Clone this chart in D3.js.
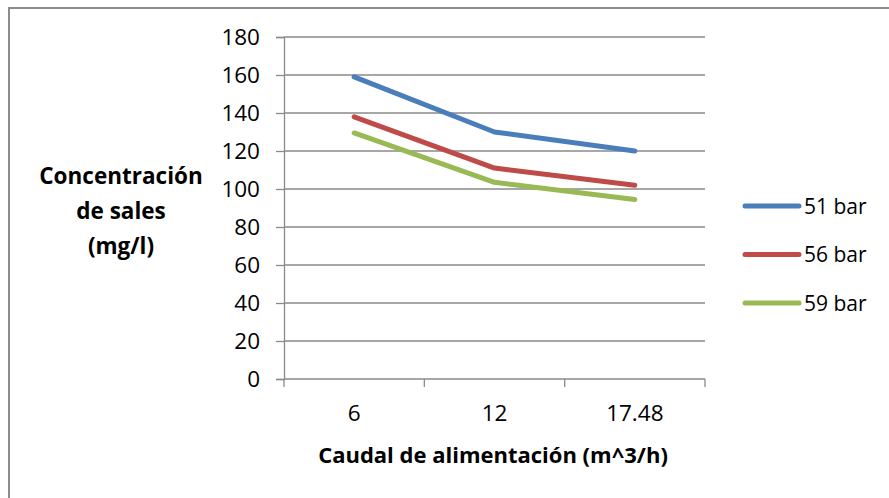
<!DOCTYPE html>
<html>
<head>
<meta charset="utf-8">
<script src="https://cdn.jsdelivr.net/npm/d3@7"></script>
<style>
  html, body { margin: 0; padding: 0; background: #fff; }
  svg { display: block; }
  text { font-family: "Open Sans", "Noto Sans", sans-serif; fill: #000; }
</style>
</head>
<body>
<svg id="chart" width="889" height="498"></svg>
<script>
// Feed flow rates (m^3/h) on the category axis
const categories = ["6", "12", "17.48"];
// Salt concentration (mg/l) for each operating pressure
const seriesNames = ["51 bar", "56 bar", "59 bar"];
const values51 = [159, 130, 120];
const values56 = [138, 111, 102];
const values59 = [129.5, 103.5, 94.5];
const yTicks = [0, 20, 40, 60, 80, 100, 120, 140, 160, 180];
const colors = ["#4a7ebb", "#be4b48", "#98b954"];

const series = [
  { name: seriesNames[0], values: values51, color: colors[0] },
  { name: seriesNames[1], values: values56, color: colors[1] },
  { name: seriesNames[2], values: values59, color: colors[2] }
];

const svg = d3.select("#chart");

// Outer chart frame
svg.append("path")
  .attr("d", "M9,498 L9,8 L889,8")
  .attr("fill", "none")
  .attr("stroke", "#8c8c8c")
  .attr("stroke-width", 2);

const plot = { left: 284, right: 705, top: 37, bottom: 379 };

const x = d3.scaleBand()
  .domain(categories)
  .range([plot.left, plot.right])
  .paddingInner(0).paddingOuter(0);

const y = d3.scaleLinear()
  .domain([0, 180])
  .range([plot.bottom, plot.top]);

// Horizontal gridlines
svg.append("g")
  .selectAll("line")
  .data(yTicks.filter(t => t > 0))
  .join("line")
  .attr("x1", plot.left).attr("x2", plot.right)
  .attr("y1", d => y(d)).attr("y2", d => y(d))
  .attr("stroke", "#8a8a8a")
  .attr("stroke-width", 1.3);

// Y axis
const yAxis = svg.append("g")
  .attr("transform", `translate(${plot.left},0)`)
  .call(d3.axisLeft(y).tickValues(yTicks).tickSize(8).tickPadding(16));
yAxis.select(".domain").attr("stroke", "#8a8a8a").attr("stroke-width", 1.3);
yAxis.selectAll(".tick line").attr("stroke", "#8a8a8a").attr("stroke-width", 1.3);
yAxis.selectAll(".tick text")
  .style("font-family", "'Open Sans', sans-serif")
  .style("font-size", "22.5px")
  .attr("fill", "#000");

// X axis with tick marks on band boundaries
const xAxisG = svg.append("g")
  .attr("transform", `translate(0,${plot.bottom})`);
xAxisG.append("line")
  .attr("x1", plot.left).attr("x2", plot.right)
  .attr("y1", 0).attr("y2", 0)
  .attr("stroke", "#8a8a8a").attr("stroke-width", 1.3);
const boundaries = categories.map(c => x(c)).concat([x(categories[categories.length - 1]) + x.bandwidth()]);
xAxisG.selectAll(".bt")
  .data(boundaries)
  .join("line")
  .attr("class", "bt")
  .attr("x1", d => d).attr("x2", d => d)
  .attr("y1", 0).attr("y2", 8)
  .attr("stroke", "#8a8a8a").attr("stroke-width", 1.3);
xAxisG.selectAll(".lbl")
  .data(categories)
  .join("text")
  .attr("class", "lbl")
  .attr("x", d => x(d) + x.bandwidth() / 2)
  .attr("y", 42)
  .attr("text-anchor", "middle")
  .style("font-size", "22.5px")
  .text(d => d);

// Lines
const line = d3.line()
  .x((d, i) => x(categories[i]) + x.bandwidth() / 2)
  .y(d => y(d));

svg.append("g")
  .selectAll("path")
  .data(series)
  .join("path")
  .attr("d", d => line(d.values))
  .attr("fill", "none")
  .attr("stroke", d => d.color)
  .attr("stroke-width", 5)
  .attr("stroke-linecap", "round")
  .attr("stroke-linejoin", "round");

// Axis titles
svg.append("text")
  .attr("x", 493).attr("y", 463)
  .attr("text-anchor", "middle")
  .style("font-size", "22px")
  .style("font-weight", "bold")
  .text("Caudal de alimentación (m^3/h)");

const yTitle = ["Concentración", "de sales", "(mg/l)"];
svg.append("g")
  .selectAll("text")
  .data(yTitle)
  .join("text")
  .attr("x", 121)
  .attr("y", (d, i) => 184 + i * 35)
  .attr("text-anchor", "middle")
  .style("font-size", "22.5px")
  .style("font-weight", "bold")
  .text(d => d);

// Legend
const legend = svg.append("g")
  .selectAll("g")
  .data(series)
  .join("g")
  .attr("transform", (d, i) => `translate(745,${206 + i * 48.5})`);
legend.append("line")
  .attr("x1", 0).attr("x2", 54)
  .attr("y1", 0).attr("y2", 0)
  .attr("stroke", d => d.color)
  .attr("stroke-width", 5)
  .attr("stroke-linecap", "round");
legend.append("text")
  .attr("x", 59).attr("y", 7.5)
  .style("font-size", "21px")
  .text(d => d.name);
</script>
</body>
</html>
